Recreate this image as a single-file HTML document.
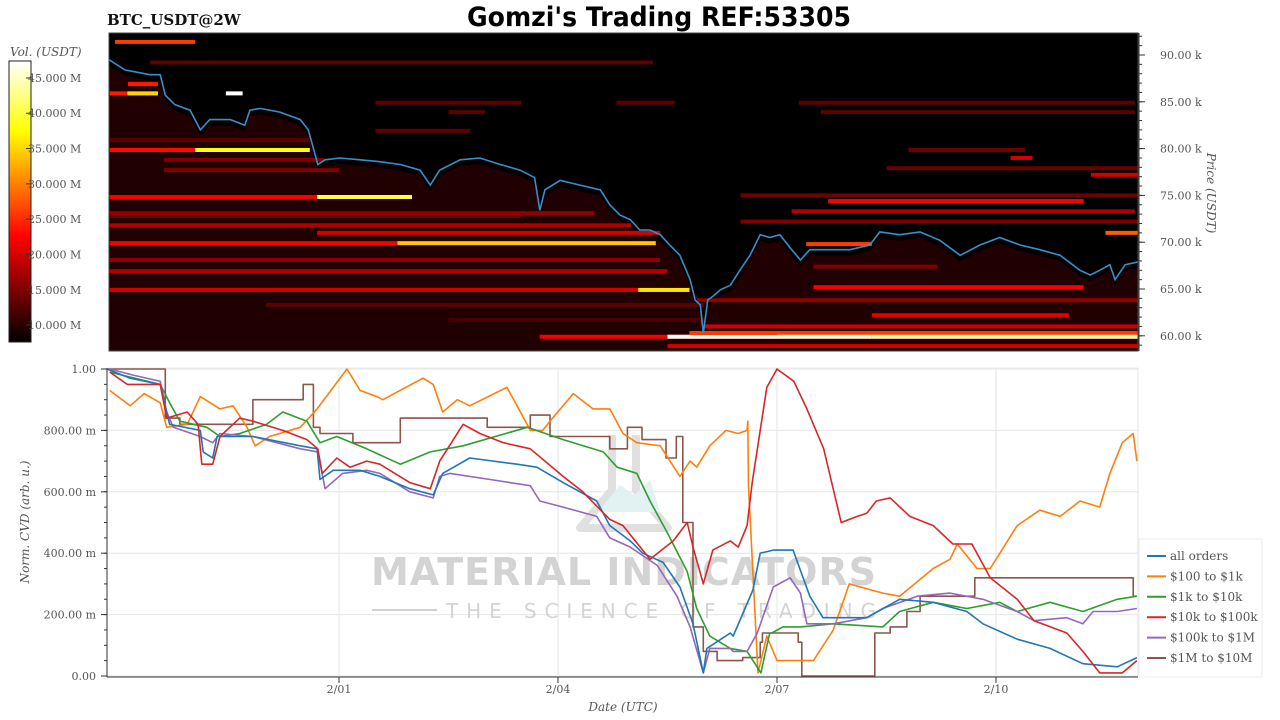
<!DOCTYPE html>
<html><head><meta charset="utf-8">
<style>
html,body{margin:0;padding:0;background:#fff;}
svg{display:block;font-family:"DejaVu Serif","Liberation Serif",serif;}
</style></head>
<body>
<svg id="chart" width="1280" height="720" viewBox="0 0 1280 720" xmlns="http://www.w3.org/2000/svg">
  <text x="659" y="26" text-anchor="middle" style="font-family:'DejaVu Sans',sans-serif" font-weight="bold" font-size="27" textLength="384" lengthAdjust="spacingAndGlyphs" fill="#000">Gomzi's Trading REF:53305</text>
  <text x="107" y="25" font-weight="bold" font-size="15" fill="#111">BTC_USDT@2W</text>
  <g id="topPanel"></g>
  <g id="bottomPanel"></g>
</svg>
<script>
// ---------- DATA ----------
const priceDays = [0.85,1.07,1.41,1.55,1.62,1.75,1.96,2.10,2.23,2.51,2.71,2.78,2.92,3.19,3.47,3.58,3.71,3.81,4.01,4.29,4.56,4.84,5.11,5.25,5.38,5.66,5.93,6.21,6.48,6.68,6.75,6.82,7.03,7.30,7.58,7.71,7.85,7.99,8.12,8.26,8.40,8.53,8.67,8.81,8.88,8.95,8.99,9.05,9.15,9.22,9.36,9.49,9.63,9.77,9.90,10.04,10.18,10.32,10.45,10.73,11.0,11.27,11.41,11.68,11.96,12.23,12.51,12.78,13.05,13.33,13.60,13.88,14.15,14.29,14.42,14.56,14.63,14.77,14.95];
const priceVals = [89.5,88.4,87.9,87.9,85.7,84.7,84.1,82.0,83.1,83.1,82.5,84.1,84.3,83.9,83.1,82.0,78.3,78.8,79.0,78.8,78.6,78.3,77.7,76.1,77.7,78.8,79.0,78.3,77.7,76.9,73.4,75.6,76.6,76.1,75.6,74.0,72.9,72.4,71.3,71.3,70.8,69.7,68.6,66.0,63.8,63.3,60.3,63.8,64.4,64.9,65.4,67.0,68.6,70.8,70.5,70.8,69.4,68.1,69.2,69.2,69.2,69.7,71.1,70.8,71.1,70.2,68.6,69.7,70.5,69.7,69.2,68.6,67.0,66.5,67.0,67.6,66.0,67.6,67.9];
const bandPrice = [91.4,89.2,86.9,85.9,85.9,85.9,80.9,79.85,79.85,78.8,77.7,74.83,74.83,72.8,69.9,69.9,84.9,83.9,81.9,84.9,73.1,71.8,71.0,68.1,66.9,64.9,64.9,63.3,61.7,59.9,59.9,58.9,84.9,83.9,79.85,79.0,77.9,77.2,74.4,75.0,73.3,72.2,71.0,69.8,67.4,65.2,63.8,62.2,61.0,60.3,59.9,59.9];
const bandStart = [0.93,1.41,1.11,0.86,1.10,2.45,0.86,0.86,2.03,1.60,1.60,0.86,3.70,0.86,0.86,4.80,4.50,5.50,4.50,7.80,0.86,0.86,3.70,0.86,0.86,0.86,8.10,3.00,5.50,6.75,8.50,8.50,10.3,10.6,11.8,13.2,11.5,14.3,10.7,9.5,10.2,9.5,14.5,10.4,10.5,10.5,8.9,11.3,9.0,8.8,10.0,11.3];
const bandEnd   = [2.03,8.30,1.52,1.52,1.52,2.68,3.60,2.03,3.60,3.80,4.00,3.70,5.00,6.50,4.80,8.34,6.50,6.00,5.80,8.60,7.50,8.00,8.40,8.40,8.50,8.80,8.80,9.00,9.00,14.95,10.0,14.95,14.9,14.9,13.4,13.5,14.95,14.95,14.2,14.95,14.9,14.95,14.95,11.3,12.2,14.2,14.95,14.0,14.95,14.95,11.3,14.95];
const bandVol   = [26,13,24,24,35,48,13,23,38,15,15,22,40,14,22,34,13,13,13,13,16,18,20,16,18,20,36,13,12,22,47,20,13,13,14,20,14,20,22,14,18,15,28,26,15,22,16,21,20,26,46,44];
const allDays=[0.82,1.14,1.55,1.68,2.10,2.14,2.27,2.33,2.82,3.47,3.70,3.74,3.92,4.29,4.56,4.97,5.29,5.42,5.79,6.44,6.71,7.07,7.53,7.71,7.99,8.16,8.44,8.67,8.85,8.99,9.04,9.36,9.40,9.67,9.77,9.95,10.22,10.45,10.63,11.23,11.68,12.14,12.60,12.82,13.29,13.74,14.19,14.66,14.93];
const allVals=[1.00,0.97,0.95,0.82,0.80,0.73,0.71,0.78,0.78,0.75,0.74,0.64,0.67,0.67,0.65,0.61,0.59,0.66,0.71,0.69,0.68,0.63,0.57,0.49,0.44,0.40,0.37,0.29,0.17,0.01,0.09,0.14,0.13,0.28,0.40,0.41,0.41,0.26,0.19,0.19,0.25,0.24,0.21,0.17,0.12,0.09,0.04,0.03,0.06];
const s100Days=[0.86,1.14,1.33,1.55,1.64,1.92,2.10,2.37,2.55,2.74,2.85,3.05,3.47,3.70,3.92,4.11,4.29,4.52,4.60,5.15,5.29,5.42,5.62,5.79,6.30,6.44,6.62,6.79,6.89,7.21,7.48,7.71,7.89,8.08,8.40,8.67,8.81,8.90,9.08,9.30,9.47,9.59,9.60,9.61,9.74,9.86,10.0,10.31,10.50,10.77,10.99,11.45,11.68,12.14,12.37,12.47,12.74,12.92,13.29,13.60,13.88,14.15,14.42,14.56,14.73,14.88,14.93];
const s100Vals=[0.93,0.88,0.92,0.89,0.81,0.82,0.91,0.87,0.88,0.81,0.75,0.78,0.81,0.87,0.94,1.00,0.93,0.91,0.90,0.97,0.95,0.86,0.90,0.88,0.94,0.88,0.80,0.80,0.83,0.92,0.87,0.87,0.79,0.76,0.75,0.65,0.70,0.68,0.75,0.80,0.79,0.80,0.83,0.62,0.01,0.13,0.05,0.05,0.05,0.15,0.30,0.27,0.26,0.35,0.38,0.43,0.35,0.35,0.49,0.54,0.52,0.57,0.55,0.66,0.76,0.79,0.70];
const s1kDays=[0.86,1.55,1.68,1.82,2.19,2.37,2.64,3.01,3.23,3.56,3.74,3.97,4.38,4.84,5.25,5.70,6.58,7.07,7.62,7.81,8.08,8.26,8.49,8.77,8.90,9.08,9.36,9.59,9.78,9.90,9.93,10.08,10.32,10.77,11.45,11.68,12.14,12.60,13.05,13.29,13.74,14.19,14.66,14.93];
const s1kVals=[0.99,0.95,0.89,0.83,0.81,0.78,0.79,0.82,0.86,0.83,0.76,0.78,0.74,0.69,0.73,0.75,0.81,0.77,0.73,0.68,0.66,0.57,0.47,0.34,0.22,0.13,0.09,0.08,0.01,0.14,0.14,0.16,0.16,0.17,0.16,0.21,0.24,0.22,0.24,0.21,0.24,0.21,0.25,0.26];
const s10kDays=[0.86,1.10,1.55,1.64,1.92,2.07,2.12,2.27,2.37,2.64,2.82,3.23,3.56,3.71,3.77,3.97,4.15,4.38,4.56,4.97,5.25,5.38,5.70,5.93,6.25,6.62,7.07,7.34,7.71,7.89,8.26,8.58,8.77,8.85,8.99,9.12,9.36,9.47,9.59,9.66,9.86,10.0,10.23,10.41,10.64,10.88,11.1,11.23,11.36,11.55,11.82,12.14,12.41,12.67,12.92,13.29,13.52,13.97,14.19,14.42,14.73,14.93];
const s10kVals=[0.99,0.95,0.95,0.84,0.86,0.82,0.69,0.69,0.78,0.84,0.83,0.80,0.77,0.74,0.66,0.71,0.68,0.70,0.69,0.63,0.61,0.70,0.82,0.79,0.76,0.74,0.65,0.60,0.51,0.49,0.38,0.44,0.50,0.42,0.30,0.41,0.44,0.42,0.49,0.63,0.94,1.00,0.96,0.87,0.74,0.50,0.52,0.53,0.57,0.58,0.52,0.49,0.43,0.43,0.32,0.25,0.18,0.14,0.08,0.01,0.01,0.05];
const s100kDays=[0.86,1.18,1.55,1.64,1.73,2.10,2.27,2.37,2.82,3.47,3.71,3.81,4.05,4.38,4.56,4.97,5.29,5.38,5.52,6.07,6.62,6.75,7.07,7.53,7.71,7.99,8.36,8.63,8.81,8.99,9.08,9.36,9.40,9.59,9.73,9.95,10.18,10.32,10.41,10.77,11.23,11.45,11.92,12.37,12.82,13.29,13.52,13.97,14.19,14.33,14.66,14.93];
const s100kVals=[1.00,0.98,0.96,0.86,0.81,0.78,0.76,0.79,0.78,0.74,0.73,0.61,0.66,0.67,0.66,0.60,0.58,0.65,0.66,0.64,0.62,0.57,0.55,0.52,0.45,0.42,0.36,0.26,0.16,0.01,0.09,0.09,0.08,0.08,0.14,0.29,0.32,0.27,0.17,0.17,0.19,0.22,0.26,0.27,0.25,0.21,0.18,0.19,0.17,0.21,0.21,0.22];
const s1mDays=[0.82,1.62,1.82,2.82,3.51,3.65,3.74,4.19,4.84,6.03,6.62,6.89,7.71,7.95,8.15,8.48,8.62,8.71,8.85,8.99,9.18,9.53,9.77,9.80,10.29,10.34,11.34,11.55,11.78,11.96,12.71,14.88,14.93];
const s1mVals=[1.00,0.84,0.82,0.90,0.95,0.81,0.79,0.76,0.84,0.81,0.85,0.78,0.74,0.81,0.77,0.71,0.78,0.50,0.16,0.08,0.05,0.06,0.11,0.14,0.11,0.00,0.14,0.16,0.21,0.26,0.32,0.26,0.26];
const seriesNames=["all orders","$100 to $1k","$1k to $10k","$10k to $100k","$100k to $1M","$1M to $10M"];
const xTickDays=[4,7,10,13];
const xTickLabels=["2/01","2/04","2/07","2/10"];
const yTickVals=[0,0.2,0.4,0.6,0.8,1.0];
const yTickLabels=["0.00","200.00 m","400.00 m","600.00 m","800.00 m","1.00"];
const priceTicks=[60,65,70,75,80,85,90];
const priceTickLabels=["60.00 k","65.00 k","70.00 k","75.00 k","80.00 k","85.00 k","90.00 k"];
const volTicks=[10,15,20,25,30,35,40,45];
const volTickLabels=["10.000 M","15.000 M","20.000 M","25.000 M","30.000 M","35.000 M","40.000 M","45.000 M"];
const underPriceVol = 9.5;

// ---------- HELPERS ----------
const NS="http://www.w3.org/2000/svg";
const svg=document.getElementById('chart');
const topG=document.getElementById('topPanel');
const bottomG=document.getElementById('bottomPanel');
function mk(tag,attrs,parent){const e=document.createElementNS(NS,tag);for(const k in attrs)e.setAttribute(k,attrs[k]);(parent||svg).appendChild(e);return e;}
const xDay=d=>47+d*73;
const yPrice=p=>55+(90-p)*9.36;
const yCvd=v=>676-v*307;
const VMIN=7.6,VMAX=47.4;
function hot(v){let t=Math.max(0,Math.min(1,(v-VMIN)/(VMAX-VMIN)));
  const r=Math.min(1,t/0.375),g=Math.max(0,Math.min(1,(t-0.375)/0.375)),b=Math.max(0,Math.min(1,(t-0.75)/0.25));
  return `rgb(${Math.round(r*255)},${Math.round(g*255)},${Math.round(b*255)})`;}

// ---------- TOP PANEL ----------
const bg=mk('rect',{x:109,y:33,width:1029,height:318,fill:'#000'},topG);


const clip=mk('clipPath',{id:'clipTop'},svg);mk('rect',{x:109,y:33,width:1029,height:318},clip);
const hm=mk('g',{'clip-path':'url(#clipTop)'},topG);


let pd='';priceDays.forEach((d,i)=>{pd+=(i?'L':'M')+xDay(d).toFixed(1)+','+(yPrice(priceVals[i])+6).toFixed(1);});
const under=mk('path',{d:pd+'L'+xDay(priceDays[priceDays.length-1])+',351L'+xDay(priceDays[0])+',351Z',fill:hot(underPriceVol)},hm);


for(let i=0;i<bandPrice.length;i++){
  const x0=xDay(bandStart[i]),x1=xDay(bandEnd[i]);
  const r=mk('rect',{x:x0,y:yPrice(bandPrice[i])-2,width:x1-x0,height:4,fill:hot(bandVol[i])},hm);
  
  
}
let pd2='';priceDays.forEach((d,i)=>{pd2+=(i?'L':'M')+xDay(d).toFixed(1)+','+yPrice(priceVals[i]).toFixed(1);});
const pl=mk('path',{d:pd2,fill:'none',stroke:'#3a8fc9','stroke-width':1.6},hm);


mk('rect',{x:109,y:33,width:1029,height:318,fill:'none',stroke:'#444','stroke-width':1},topG);
mk('line',{x1:1139,y1:33,x2:1139,y2:351,stroke:'#333'},topG);
for(let p=59;p<=92;p++){mk('line',{x1:1139,y1:yPrice(p),x2:1142,y2:yPrice(p),stroke:'#333'},topG);}
priceTicks.forEach((p,i)=>{
  mk('line',{x1:1139,y1:yPrice(p),x2:1145,y2:yPrice(p),stroke:'#333'},topG);
  const t=mk('text',{x:1160,y:yPrice(p)+4,'font-size':11,fill:'#555'},topG);t.textContent=priceTickLabels[i];
  
  
});
const pt=mk('text',{x:1207,y:193,'font-size':12,'font-style':'italic',fill:'#555','text-anchor':'middle',transform:'rotate(90 1207 193)'},topG);
pt.textContent='Price (USDT)';


const grad=mk('linearGradient',{id:'hotg',x1:0,y1:1,x2:0,y2:0},svg);
[0,0.375,0.75,1].forEach((o,i)=>mk('stop',{offset:o,'stop-color':['#000','#f00','#ff0','#fff'][i]},grad));
const cb=mk('rect',{x:9,y:61,width:22,height:281,fill:'url(#hotg)',stroke:'#222','stroke-width':1},topG);


const yVol=v=>342-(v-VMIN)/(VMAX-VMIN)*281;
volTicks.forEach((v,i)=>{
  mk('line',{x1:26,y1:yVol(v),x2:31,y2:yVol(v),stroke:'#333'},topG);
  const t=mk('text',{x:28,y:yVol(v)+4,'font-size':11,fill:'#555'},topG);t.textContent=volTickLabels[i];
  
  
});
const vt=mk('text',{x:10,y:56,'font-size':12,'font-style':'italic',fill:'#555'},topG);vt.textContent='Vol. (USDT)';



// ---------- BOTTOM PANEL ----------
yTickVals.forEach(v=>mk('line',{x1:107,y1:yCvd(v),x2:1138,y2:yCvd(v),stroke:'#e6e6e6'},bottomG));
xTickDays.forEach(d=>mk('line',{x1:xDay(d),y1:368,x2:xDay(d),y2:676,stroke:'#e6e6e6'},bottomG));
mk('line',{x1:1138,y1:368,x2:1138,y2:676,stroke:'#e6e6e6'},bottomG);
mk('line',{x1:107,y1:368,x2:1138,y2:368,stroke:'#eee'},bottomG);
const wm=mk('g',{opacity:0.9},bottomG);


mk('path',{d:'M612,435 L612,490 L580,528 L668,528 L636,490 L636,435',fill:'none',stroke:'#ddd','stroke-width':8,'stroke-linejoin':'round'},wm);
mk('path',{d:'M598,512 L620,485 L634,495 L650,480 L660,512 Z',fill:'#dff0f0'},wm);
const w1=mk('text',{x:371,y:585,style:"font-family:'DejaVu Sans',sans-serif",'font-weight':'bold','font-size':38,fill:'#cfcfcf',textLength:505,lengthAdjust:'spacing'},wm);w1.textContent='MATERIAL INDICATORS';
mk('line',{x1:372,y1:610,x2:437,y2:610,stroke:'#ccc','stroke-width':2},wm);
const w2=mk('text',{x:446,y:618,style:"font-family:'DejaVu Sans',sans-serif",'font-size':20,fill:'#d0d0d0',textLength:430,lengthAdjust:'spacing'},wm);w2.textContent='THE SCIENCE OF TRADING';

const clip2=mk('clipPath',{id:'clipBot'},svg);mk('rect',{x:107,y:364,width:1032,height:316},clip2);
const lines=mk('g',{'clip-path':'url(#clipBot)'},bottomG);
const colors=['#1f77b4','#ff7f0e','#2ca02c','#d62728','#9467bd','#8c564b'];
const sDays=[allDays,s100Days,s1kDays,s10kDays,s100kDays,s1mDays];
const sVals=[allVals,s100Vals,s1kVals,s10kVals,s100kVals,s1mVals];
const order=[5,1,2,4,0,3];
order.forEach(k=>{
  let d='';const D=sDays[k],V=sVals[k];
  for(let i=0;i<D.length;i++){
    const x=xDay(D[i]).toFixed(1),y=yCvd(V[i]).toFixed(1);
    if(i===0)d+='M'+x+','+y;
    else if(k===5)d+='H'+x+'V'+y;
    else d+='L'+x+','+y;
  }
  const p=mk('path',{d:d,fill:'none',stroke:colors[k],'stroke-width':1.6,'stroke-linejoin':'round'},lines);
  
  
});
mk('line',{x1:107,y1:368,x2:107,y2:677,stroke:'#333'},bottomG);
mk('line',{x1:107,y1:677,x2:1138,y2:677,stroke:'#333'},bottomG);
for(let v=0;v<=1.0001;v+=0.05){mk('line',{x1:104,y1:yCvd(v),x2:107,y2:yCvd(v),stroke:'#333'},bottomG);}
yTickVals.forEach((v,i)=>{
  mk('line',{x1:101,y1:yCvd(v),x2:107,y2:yCvd(v),stroke:'#333'},bottomG);
  const t=mk('text',{x:96,y:yCvd(v)+4,'font-size':11,fill:'#555','text-anchor':'end'},bottomG);t.textContent=yTickLabels[i];
  
  
});
xTickDays.forEach((d,i)=>{
  mk('line',{x1:xDay(d),y1:677,x2:xDay(d),y2:683,stroke:'#333'},bottomG);
  const t=mk('text',{x:xDay(d),y:693,'font-size':11,fill:'#555','text-anchor':'middle'},bottomG);t.textContent=xTickLabels[i];
  
  
});
const xt=mk('text',{x:623,y:711,'font-size':12,'font-style':'italic',fill:'#555','text-anchor':'middle'},bottomG);xt.textContent='Date (UTC)';


const yt=mk('text',{x:29,y:522,'font-size':12,'font-style':'italic',fill:'#555','text-anchor':'middle',transform:'rotate(-90 29 522)'},bottomG);yt.textContent='Norm. CVD (arb. u.)';


const lg=mk('g',{},bottomG);


mk('rect',{x:1139,y:539,width:123,height:138,fill:'#fff',stroke:'#eee'},lg);
seriesNames.forEach((n,i)=>{
  const y=556+i*20.4;
  const e=mk('g',{},lg);
  
  
  mk('line',{x1:1147,y1:y,x2:1166,y2:y,stroke:colors[i],'stroke-width':2},e);
  const t=mk('text',{x:1170,y:y+4,'font-size':12,fill:'#555'},e);t.textContent=n;
});
</script>
</body></html>
